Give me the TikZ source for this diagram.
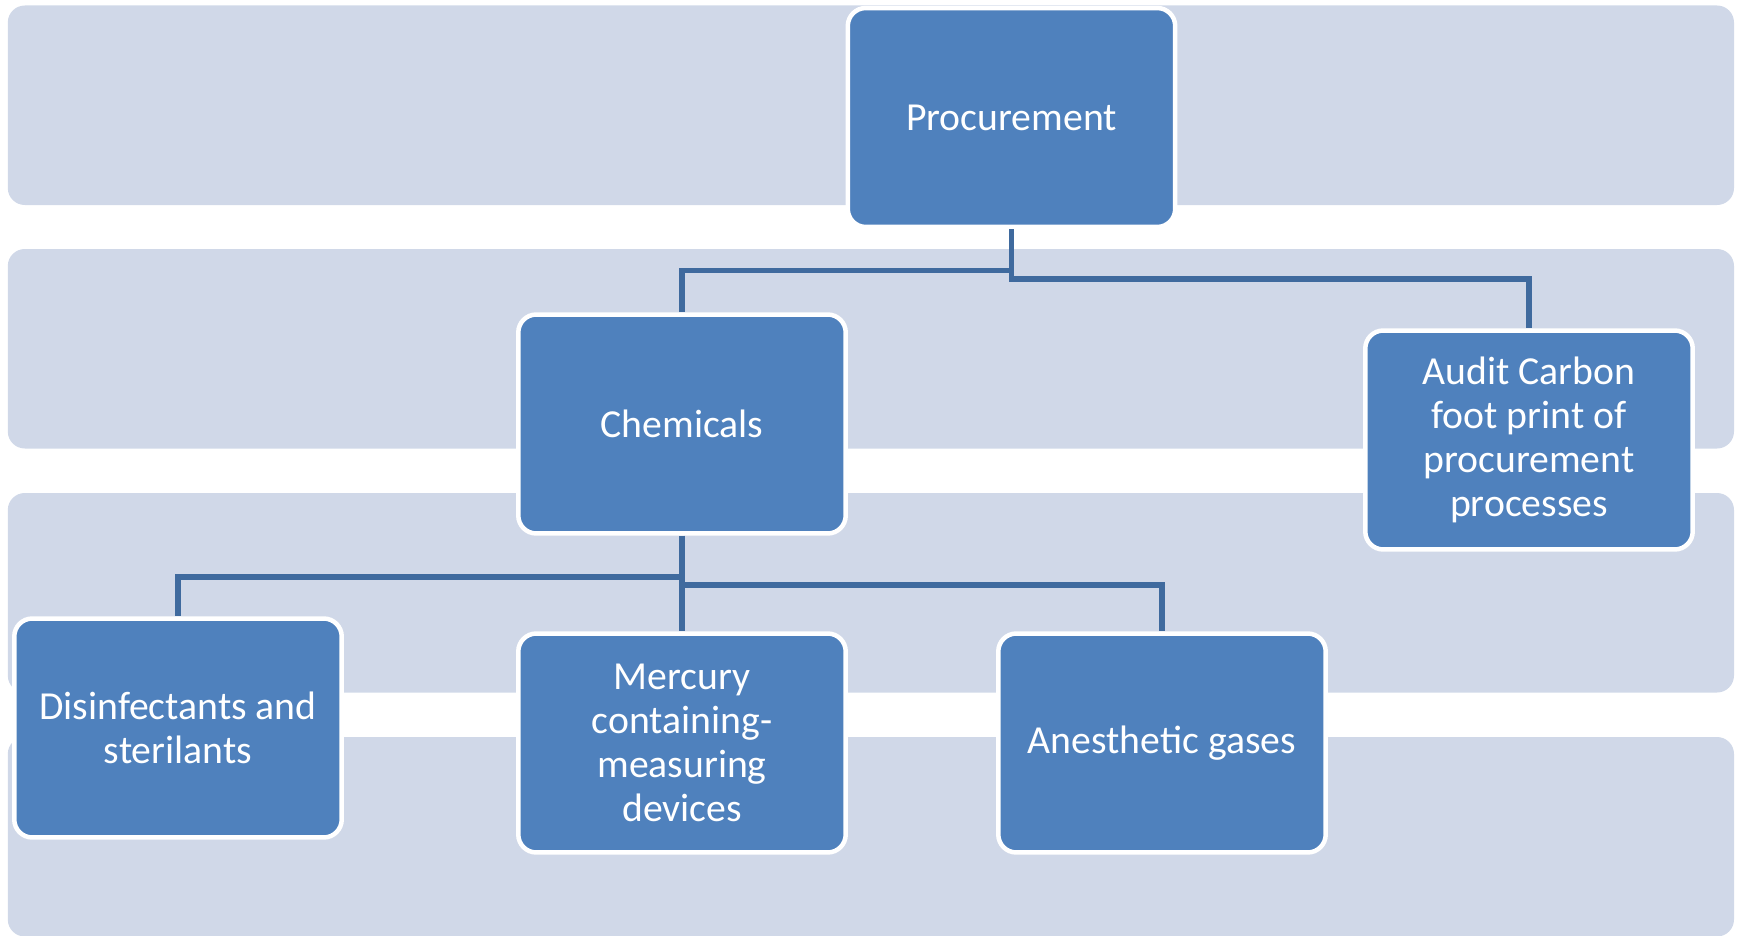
\documentclass[tikz,border=0pt]{standalone}
\usepackage{fontspec}
\setmainfont{Carlito}
\definecolor{bandfill}{HTML}{D0D8E8}
\definecolor{boxfill}{HTML}{4F81BD}
\definecolor{linkcol}{HTML}{3F6A9E}
\begin{document}
\begin{tikzpicture}[x=0.02cm,y=-0.02cm]
    \tikzstyle{box}=[draw=white,fill=boxfill,line width=0.09cm,rounded corners=0.36cm,
        minimum width=6.55cm,minimum height=4.38cm,align=center,text=white,
        font=\fontsize{22.6pt}{25pt}\selectfont,inner sep=0pt]
    \tikzstyle{link}=[draw=linkcol,line width=0.11cm]
    \useasboundingbox (0,0) rectangle (1745,936);
    % bands
    \foreach \y in {5.5,249,493,737}
        \fill[bandfill,rounded corners=0.34cm] (7.8,\y) rectangle (1734,\y+199.5);
    \draw node[box](proc)at(1011.5,117.5){Procurement}
          node[box](chem)at(682,424){Chemicals}
          node[box](audit)at(1529,440){Audit Carbon\\foot print of\\procurement\\processes}
          node[box](disi)at(178,728){Disinfectants and\\sterilants}
          node[box](merc)at(682,743){Mercury\\containing-\\measuring\\devices}
          node[box](anes)at(1162,743){Anesthetic gases};
    \coordinate (pbusl) at (1011.5,270.4);
    \coordinate (pbusr) at (1011.5,279);
    \coordinate (cbusl) at (682,577);
    \coordinate (cbusr) at (682,585);
    \draw[link](proc.south)--(pbusr)-|(audit.north);
    \draw[link](pbusl)-|(chem.north);
    \draw[link](chem.south)--(merc.north);
    \draw[link](cbusl)-|(disi.north);
    \draw[link](cbusr)-|(anes.north);
\end{tikzpicture}
\end{document}
